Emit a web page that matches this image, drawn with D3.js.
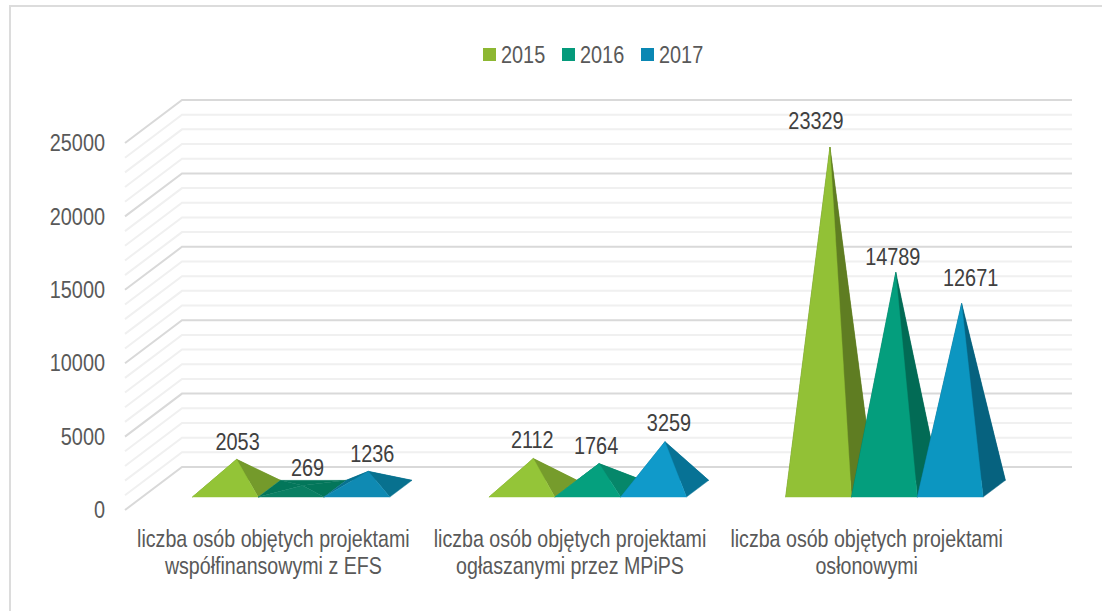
<!DOCTYPE html>
<html>
<head>
<meta charset="utf-8">
<script src="https://cdn.jsdelivr.net/npm/d3@7"></script>
<style>
html,body{margin:0;padding:0;background:#fff;overflow:hidden}
text{font-family:"Liberation Sans",Arial,sans-serif;font-size:24px}
</style>
</head>
<body>
<svg id="chart" width="1102" height="611"></svg>
<script>
const categories = [
  ["liczba osób objętych projektami", "współfinansowymi z EFS"],
  ["liczba osób objętych projektami", "ogłaszanymi przez MPiPS"],
  ["liczba osób objętych projektami", "osłonowymi"]
];
const years = ["2015", "2016", "2017"];
const values2015 = [2053, 2112, 23329];
const values2016 = [269, 1764, 14789];
const values2017 = [1236, 3259, 12671];
const yTicks = [0, 5000, 10000, 15000, 20000, 25000];
const minorStep = 1000;

// styles, per series then per category
const legendColors = ["#8DB732", "#059A7B", "#0A87B3"];
const frontColors = [
  ["#93C437", "#94C538", "#92C136"],
  ["#0A7F63", "#05A07E", "#049E7D"],
  ["#0F8AB3", "#109ACA", "#0C96C1"]
];
const sideColors = [
  ["#749A2B", "#769C2C", "#5F7D22"],
  ["#03765A", "#06876A", "#026B55"],
  ["#08718F", "#077295", "#06627F"]
];
// hand-placed data label nudges from the apex
const labelNudge = [
  [[1, -18], [-1, -19], [-14, -27]],
  [[5, -18], [-3, -18], [-3, -16]],
  [[4, -18], [-2, -19], [9, -26]]
];
labelNudge[2][1] = [4, -19];
const narrow = 0.828;

const series = [values2015, values2016, values2017];
const svg = d3.select("#chart");

// frame
svg.append("path").attr("d", d3.line()([[10, 611], [10, 6], [1102, 6]]))
  .attr("fill", "none").attr("stroke", "#dcdcdc").attr("stroke-width", 2);

// wall geometry
const depthX = 57, depthY = 43, wallRight = 1072;
const y = d3.scaleLinear().domain([0, 25000]).range([467, 100]);
const x0 = d3.scaleBand().domain(d3.range(categories.length)).range([125, 1015]);
const x1 = d3.scaleBand().domain(d3.range(years.length)).range([0, 197.5]);
const groupPad = 67.3;
const wallX = 125;

// gridlines
const grid = svg.append("g").attr("fill", "none");
const minor = d3.range(0, 25001, minorStep).filter(v => !yTicks.includes(v));
const gridPath = v => d3.line()([[wallX, y(v) + depthY], [wallX + depthX, y(v)], [wallRight, y(v)]]);
grid.selectAll("path.minor").data(minor).join("path").attr("class", "minor")
  .attr("d", gridPath).attr("stroke", "#f0f0f0").attr("stroke-width", 2);
grid.selectAll("path.major").data(yTicks).join("path").attr("class", "major")
  .attr("d", gridPath).attr("stroke", "#d9d9d9").attr("stroke-width", 2);

// y axis
const axis = svg.append("g").attr("transform", "translate(105,42)")
  .call(d3.axisLeft(y).tickValues(yTicks).tickSize(0).tickPadding(0).tickFormat(d3.format("d")));
axis.select(".domain").remove();
axis.selectAll("text").attr("fill", "#595959").attr("x", 0).attr("dy", "0.36em")
  .attr("transform", `scale(${narrow},1)`)
  .style("font-family", '"Liberation Sans",Arial,sans-serif').style("font-size", "24px");

// pyramids
const baseFront = 0.3, baseBack = 0.69, baseMid = 0.5, apexDrop = 22.5;
const floorY = y(0) + depthY;
const line = d3.line().curve(d3.curveLinearClosed);
const marks = svg.append("g");
const labels = [];
series.forEach((vals, s) => {
  vals.forEach((v, c) => {
    const xl = x0(c) + groupPad + x1(s), w = x1.bandwidth();
    const fl = [xl, floorY - depthY * baseFront];
    const fr = [xl + w, floorY - depthY * baseFront];
    const shift = depthX * (baseBack - baseFront);
    const by = floorY - depthY * baseBack;
    const bl = [xl + shift, by], br = [xl + w + shift, by];
    const ax = xl + w / 2 + depthX * (baseMid - baseFront);
    const apex = [ax, y(v) + apexDrop];
    const g = marks.append("g");
    const face = (pts, col) => g.append("path").attr("d", line(pts)).attr("fill", col)
      .attr("stroke", col).attr("stroke-width", 0.4).attr("stroke-linejoin", "round");
    face([bl, br, apex], sideColors[s][c]);
    face([fl, bl, apex], sideColors[s][c]);
    face([fr, br, apex], sideColors[s][c]);
    face([fl, fr, apex], frontColors[s][c]);
    labels.push({v, x: apex[0] + labelNudge[s][c][0], y: apex[1] + labelNudge[s][c][1]});
  });
});

// data labels
svg.append("g").selectAll("text").data(labels).join("text")
  .attr("transform", d => `translate(${d.x},${d.y}) scale(${narrow},1)`).attr("dy", "0.36em")
  .attr("text-anchor", "middle").attr("fill", "#404040").text(d => d.v);

// category labels
const catG = svg.append("g").selectAll("g").data(categories).join("g");
catG.each(function (lines, c) {
  d3.select(this).selectAll("text").data(lines).join("text")
    .attr("text-anchor", "middle").attr("fill", "#595959")
    .attr("transform", (d, i) => `translate(${x0(c) + x0.bandwidth() / 2},${547 + i * 27}) scale(0.818,1)`)
    .text(d => d);
});

// legend
const legendX = [483, 562, 641];
const lg = svg.append("g").selectAll("g").data(years).join("g")
  .attr("transform", (d, i) => `translate(${legendX[i]},48)`);
lg.append("rect").attr("width", 13).attr("height", 13).attr("fill", (d, i) => legendColors[i]);
lg.append("text").attr("transform", `translate(18,14.5) scale(${narrow},1)`).attr("fill", "#595959").text(d => d);
</script>
</body>
</html>
